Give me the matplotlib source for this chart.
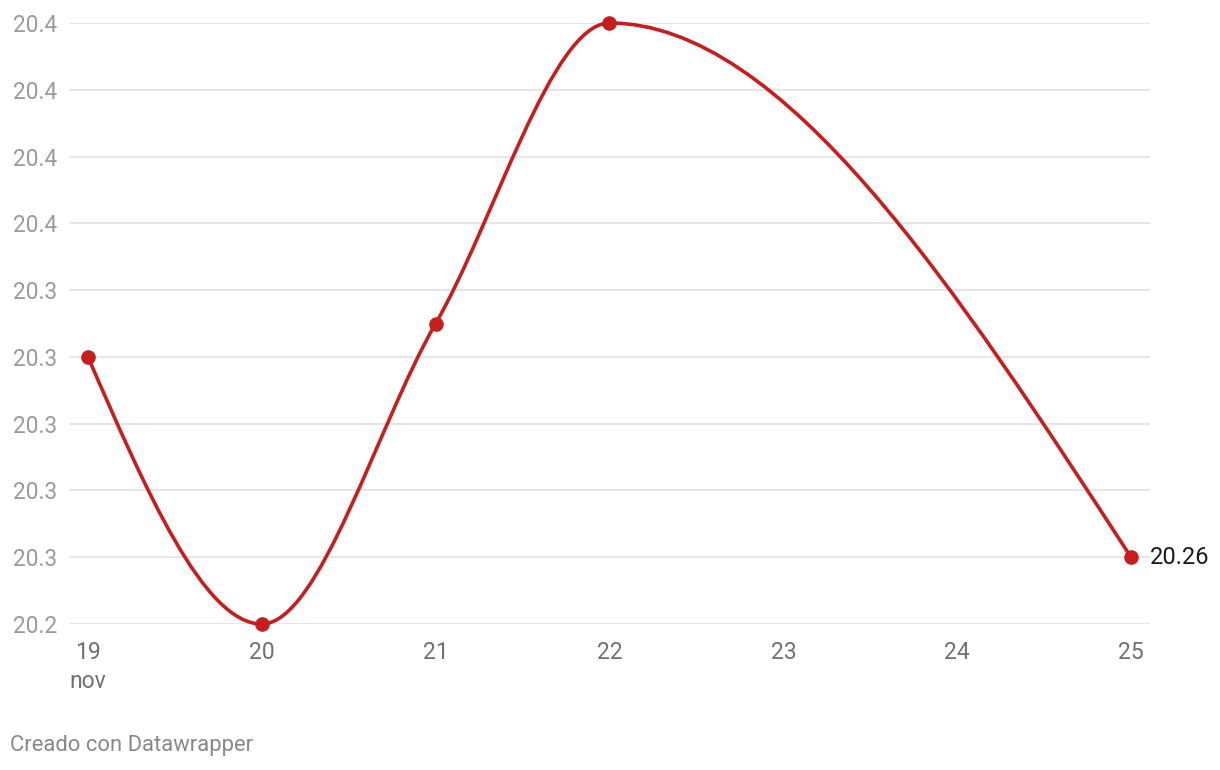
import matplotlib
matplotlib.use('Agg')
import matplotlib.pyplot as plt
from matplotlib.path import Path
from matplotlib.patches import PathPatch
import numpy as np

plt.rcParams['font.family'] = ['Roboto', 'DejaVu Sans']

DAYS = [19, 20, 21, 22, 25]
VALUES = [20.32, 20.24, 20.33, 20.42, 20.26]
YTICKS = [20.24, 20.26, 20.28, 20.30, 20.32, 20.34, 20.36, 20.38, 20.40, 20.42]
XTICKS = [19, 20, 21, 22, 23, 24, 25]

RED = "#c71e1d"
GRID = "#e3e3e3"
YLAB = "#9a9a9a"
XLAB = "#707070"


def monotone_path(x, y):
    # same tangents as d3.curveMonotoneX, drawn as cubic Bezier segments
    x = np.asarray(x, float); y = np.asarray(y, float)
    n = len(x)
    h = np.diff(x); s = np.diff(y) / h
    t = np.zeros(n)
    for i in range(1, n - 1):
        p = (s[i-1] * h[i] + s[i] * h[i-1]) / (h[i-1] + h[i])
        t[i] = (np.sign(s[i-1]) + np.sign(s[i])) * min(abs(s[i-1]), abs(s[i]), 0.5 * abs(p))
    t[0] = (3 * s[0] - t[1]) / 2
    t[-1] = (3 * s[-1] - t[-2]) / 2
    verts = [(x[0], y[0])]; codes = [Path.MOVETO]
    for i in range(n - 1):
        dx = h[i] / 3
        verts += [(x[i] + dx, y[i] + dx * t[i]), (x[i+1] - dx, y[i+1] - dx * t[i+1]), (x[i+1], y[i+1])]
        codes += [Path.CURVE4] * 3
    return Path(verts, codes)


fig = plt.figure(figsize=(12.2, 7.7), dpi=100)
fig.patch.set_facecolor("white")
ax = fig.add_axes([69/1220, 1 - 624/770, (1150-69)/1220, (624-23)/770])

ax.set_xlim(18.891, 25.109)
ax.set_ylim(20.24, 20.42)

for v in YTICKS:
    ax.axhline(v, color=GRID, linewidth=1.3, zorder=0)

ax.add_patch(PathPatch(monotone_path(DAYS, VALUES), facecolor="none", edgecolor=RED,
                       linewidth=2.6, capstyle="round", zorder=3, clip_on=False))
ax.plot(DAYS, VALUES, "o", color=RED, markersize=9.5, zorder=4, clip_on=False)

ax.text(DAYS[-1] + 0.11, VALUES[-1], f"{VALUES[-1]:.2f}", ha="left", va="center",
        fontsize=17, color="#1a1a1a")

ax.set_yticks(YTICKS)
ax.set_yticklabels([f"{v:.1f}" for v in YTICKS])
ax.set_xticks(XTICKS)
ax.set_xticklabels([str(d) for d in XTICKS])
ax.tick_params(axis="y", length=0, pad=8.5, labelsize=16.3, labelcolor=YLAB)
ax.tick_params(axis="x", length=0, pad=12, labelsize=16.5, labelcolor=XLAB)
for sp in ax.spines.values():
    sp.set_visible(False)

fig.text(69/1220, 1 - 681/770, "nov", ha="left", va="center", fontsize=16.5, color=XLAB)
fig.text(10/1220, 1 - 746/770, "Creado con Datawrapper", ha="left", va="center",
         fontsize=15.8, color="#888888")

plt.savefig("out.png", dpi=100, facecolor="white")
